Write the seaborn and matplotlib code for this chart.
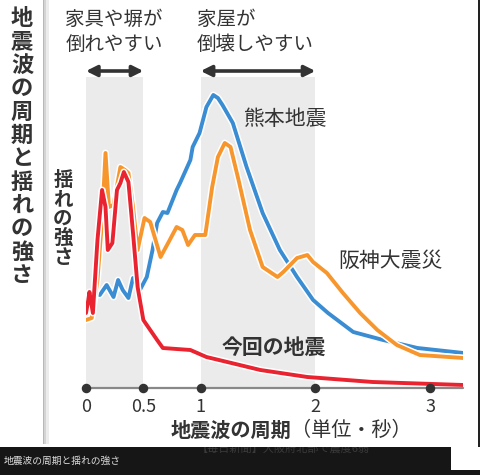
import pandas as pd
import matplotlib.pyplot as plt
import matplotlib.patheffects as pe
from matplotlib.patches import Rectangle
import seaborn as sns

# periods (s) and shaking strength (arbitrary units)
kumamoto_x = [0.00, 0.06, 0.12, 0.18, 0.24, 0.28, 0.32, 0.37, 0.41, 0.47, 0.53, 0.58, 0.62,
              0.67, 0.71, 0.79, 0.82, 0.91, 0.93, 0.99, 1.05, 1.11, 1.15, 1.19, 1.28, 1.40,
              1.54, 1.69, 1.84, 1.98, 2.11, 2.33, 2.59, 2.89, 3.29]
kumamoto_y = [0.83, 0.95, 0.93, 1.03, 0.91, 1.08, 0.98, 0.90, 1.10, 0.98, 1.11, 1.38, 1.65,
              1.76, 1.75, 1.98, 2.05, 2.28, 2.41, 2.55, 2.81, 2.93, 2.90, 2.83, 2.65, 2.21,
              1.75, 1.38, 1.11, 0.88, 0.75, 0.56, 0.48, 0.40, 0.35]

hanshin_x = [0.00, 0.05, 0.10, 0.14, 0.17, 0.20, 0.24, 0.30, 0.34, 0.37, 0.41, 0.45, 0.51,
             0.56, 0.65, 0.73, 0.79, 0.84, 0.89, 0.95, 1.04, 1.10, 1.15, 1.21, 1.26, 1.33,
             1.43, 1.54, 1.67, 1.72, 1.84, 1.93, 1.98, 2.10, 2.24, 2.39, 2.54, 2.71, 2.91, 3.29]
hanshin_y = [0.68, 0.70, 1.08, 1.68, 2.35, 1.81, 1.83, 2.21, 2.18, 2.15, 1.81, 1.38, 1.70,
             1.66, 1.31, 1.48, 1.61, 1.58, 1.43, 1.53, 1.53, 2.01, 2.31, 2.45, 2.41, 2.08,
             1.58, 1.21, 1.11, 1.16, 1.30, 1.33, 1.26, 1.15, 0.95, 0.75, 0.58, 0.43, 0.33, 0.30]

osaka_x = [0.00, 0.02, 0.03, 0.06, 0.10, 0.14, 0.17, 0.19, 0.23, 0.27, 0.30, 0.33, 0.37,
           0.41, 0.45, 0.50, 0.62, 0.67, 0.91, 1.05, 1.34, 1.52, 1.93, 2.50, 3.29]
osaka_y = [0.75, 0.88, 0.96, 0.75, 1.48, 1.98, 1.81, 1.38, 1.45, 1.98, 2.05, 2.16, 2.06,
           1.55, 1.01, 0.68, 0.48, 0.40, 0.38, 0.31, 0.23, 0.18, 0.11, 0.06, 0.03]

ticks = [0, 0.5, 1, 2, 3]
tick_labels = ['0', '0.5', '1', '2', '3']

sns.set_style('white')
plt.rcParams['font.family'] = ['Noto Sans CJK JP', 'DejaVu Sans']

W, H = 480, 475
fig = plt.figure(figsize=(4.8, 4.75), dpi=100)
ax = fig.add_axes([86 / W, 87 / H, 377 / W, 311 / H])

ax.axvspan(0, 0.5, color='#ebebeb', lw=0, zorder=0)
ax.axvspan(1, 2, color='#ebebeb', lw=0, zorder=0)

outline = [pe.Stroke(linewidth=5, foreground='white'), pe.Normal()]
series = [(kumamoto_x, kumamoto_y, '#3a8dd2'),
          (hanshin_x, hanshin_y, '#f7962d'),
          (osaka_x, osaka_y, '#e9232f')]
for i, (xs, ys, c) in enumerate(series):
    df = pd.DataFrame({'period': xs, 'strength': ys})
    sns.lineplot(data=df, x='period', y='strength', ax=ax, color=c, lw=2.8,
                 path_effects=outline, zorder=3 + i)

ax.set_xlim(0, 377 / 114.7)
ax.set_ylim(0, 3.11)
ax.axhline(0, color='#888888', lw=1.6, zorder=6, clip_on=False)
ax.scatter(ticks, [0] * len(ticks), s=34, color='#333333', zorder=7, clip_on=False)
for t, lab in zip(ticks, tick_labels):
    ax.text(t, -0.19, lab, ha='center', va='center', fontsize=13, color='#333333')
ax.set_xticks([])
ax.set_yticks([])
ax.set_xlabel('')
ax.set_ylabel('')
sns.despine(ax=ax, left=True, bottom=True)

# arrows over the shaded bands
arr = dict(arrowstyle='<|-|>', color='#333333', lw=2.6, mutation_scale=16,
           shrinkA=0, shrinkB=0)
ax.annotate('', xy=(0.0, 3.17), xytext=(0.5, 3.17), arrowprops=arr, annotation_clip=False)
ax.annotate('', xy=(1.0, 3.17), xytext=(2.0, 3.17), arrowprops=arr, annotation_clip=False)

fig.text(114 / W, 1 - 32 / H, '家具や塀が\n倒れやすい', ha='center', va='center',
         fontsize=14, color='#333333', linespacing=1.25)
fig.text(197 / W, 1 - 32 / H, '家屋が\n倒壊しやすい', ha='left', va='center',
         fontsize=14, color='#333333', linespacing=1.25)

fig.text(243 / W, 1 - 119 / H, '熊本地震', ha='left', va='center', fontsize=15, color='#333333')
fig.text(338 / W, 1 - 261 / H, '阪神大震災', ha='left', va='center', fontsize=15, color='#333333')
fig.text(222 / W, 1 - 347 / H, '今回の地震', ha='left', va='center', fontsize=15,
         fontweight='bold', color='#333333')

fig.text(291 / W, 1 - 430 / H, '地震波の周期', ha='right', va='center', fontsize=14.5,
         fontweight='bold', color='#333333')
fig.text(291 / W, 1 - 430 / H, '（単位・秒）', ha='left', va='center', fontsize=14.5,
         color='#333333')

fig.text(63 / W, 1 - 219 / H, '\n'.join('揺れの強さ'), ha='center', va='center',
         fontsize=14, fontweight='bold', color='#333333', linespacing=1.0)
fig.text(22 / W, 1 - 147 / H, '\n'.join('地震波の周期と揺れの強さ'), ha='center', va='center',
         fontsize=16, fontweight='bold', color='#333333', linespacing=1.02)

# divider strip on the left
for x0, w, c in [(42.5, 1.5, '#b8b8b8'), (44, 2, '#d4d4d4'), (46, 2.5, '#ececec')]:
    fig.patches.append(Rectangle((x0 / W, 31 / H), w / W, 1 - 31 / H,
                                 transform=fig.transFigure, color=c, lw=0))

# screenshot caption bar
bar = Rectangle((0, 0), 451 / W, 28 / H, transform=fig.transFigure, color='#161616', lw=0)
fig.patches.append(bar)
fig.patches.append(Rectangle((451 / W, 0), 29 / W, 5 / H, transform=fig.transFigure,
                             color='#161616', lw=0))
fig.patches.append(Rectangle((478 / W, 28 / H), 2 / W, 1 - 28 / H, transform=fig.transFigure,
                             color='#222222', lw=0))
cut = fig.text(197 / W, 26 / H, '【毎日新聞】大阪府北部で震度6弱', ha='left', va='center',
               fontsize=8, color='#3a3a3a')
cut.set_clip_path(bar)
fig.text(4 / W, 14 / H, '地震波の周期と揺れの強さ', ha='left', va='center', fontsize=7,
         color='#dddddd')

fig.savefig('out.png', dpi=100)
